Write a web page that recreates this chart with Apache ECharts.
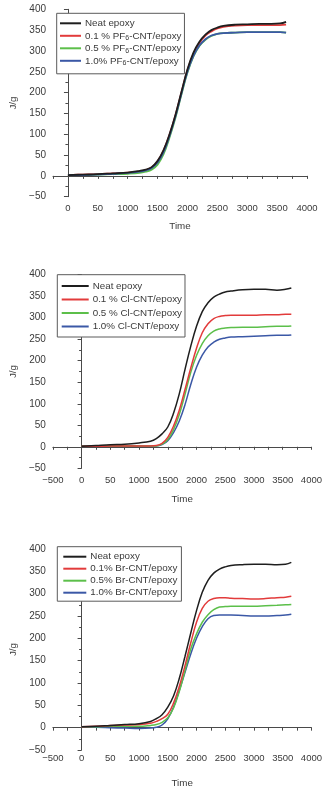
<!DOCTYPE html>
<html><head><meta charset="utf-8">
<script src="https://cdn.jsdelivr.net/npm/echarts@6/dist/echarts.min.js"></script>
<style>html,body{margin:0;padding:0;background:#fff}#c{width:325px;height:789px}</style>
</head><body><div id="c"></div>
<script>
// ---- data ----
const time = [0, 250, 500, 750, 1000, 1200, 1300, 1400, 1500, 1600, 1700, 1800, 1900, 2000, 2100, 2200, 2300, 2400, 2500, 2600, 2800, 3000, 3200, 3400, 3550, 3650];

// Chart 1: PF6-CNT
const names1 = ['Neat epoxy', '0.1 % PF6-CNT/epoxy', '0.5 % PF6-CNT/epoxy', '1.0% PF6-CNT/epoxy'];
const neat1  = [2, 3, 4, 6, 8, 12, 15, 21, 36, 62, 100, 147, 202, 256, 296, 322, 339, 350, 356, 360, 363, 364, 365, 365, 366, 370];
const pf01   = [2, 3, 4, 6, 8, 11, 14, 20, 35, 61, 99, 146, 201, 254, 293, 319, 337, 347, 354, 358, 361, 362, 362, 362, 362, 363];
const pf05   = [2, 2, 3, 4, 5, 7, 10, 15, 27, 52, 92, 140, 196, 248, 287, 312, 327, 336, 341, 343, 344, 345, 345, 345, 345, 344];
const pf10   = [2, 2, 3, 5, 7, 10, 13, 19, 32, 57, 96, 143, 198, 250, 288, 313, 328, 337, 341, 343, 344, 345, 345, 345, 345, 344];

// Chart 2: Cl-CNT
const names2 = ['Neat epoxy', '0.1 % Cl-CNT/epoxy', '0.5 % Cl-CNT/epoxy', '1.0% Cl-CNT/epoxy'];
const neat2  = [1, 3, 5, 6, 9, 13, 19, 30, 46, 78, 123, 180, 234, 280, 314, 335, 348, 355, 360, 362, 365, 366, 366, 364, 366, 369];
const cl01   = [1, 1, 2, 2, 2, 2, 3, 8, 22, 48, 85, 133, 183, 229, 265, 286, 298, 303, 305, 306, 306, 306, 307, 307, 308, 308];
const cl05   = [1, 1, 2, 2, 2, 2, 2, 6, 17, 40, 75, 122, 173, 212, 240, 258, 269, 274, 276, 277, 278, 278, 279, 280, 280, 281];
const cl10   = [1, 1, 1, 1, 1, 2, 2, 5, 14, 33, 60, 98, 145, 185, 213, 232, 243, 250, 253, 255, 256, 257, 258, 259, 259, 260];

// Chart 3: Br-CNT
const names3 = ['Neat epoxy', '0.1% Br-CNT/epoxy', '0.5% Br-CNT/epoxy', '1.0% Br-CNT/epoxy'];
const neat3  = [2, 3, 5, 7, 9, 14, 20, 29, 46, 71, 110, 160, 212, 262, 303, 330, 346, 355, 360, 363, 365, 366, 366, 365, 366, 370];
const br01   = [2, 3, 5, 6, 7, 10, 14, 20, 30, 55, 92, 139, 190, 236, 267, 283, 289, 291, 291, 290, 289, 288, 289, 291, 292, 294];
const br05   = [2, 2, 3, 3, 3, 5, 7, 12, 22, 44, 81, 128, 176, 210, 236, 253, 264, 270, 271, 272, 272, 272, 273, 274, 275, 276];
const br10   = [1, 1, 0, -1, -2, -1, 1, 6, 20, 46, 83, 124, 165, 200, 226, 244, 251, 252, 252, 252, 251, 250, 250, 251, 252, 254];

// tick labels
const xTickValues = [-500, 0, 500, 1000, 1500, 2000, 2500, 3000, 3500, 4000];
const xTickLabels = ['\u2212500', '0', '50', '1000', '1500', '2000', '2500', '3000', '3500', '4000'];
const yTickValues = [-50, 0, 50, 100, 150, 200, 250, 300, 350, 400];
const yTickLabels = ['\u221250', '0', '50', '100', '150', '200', '250', '300', '350', '400'];

const colors = ['#1e1e1e', '#e23b3b', '#5cbf4a', '#3b58a6'];
const FONT = 'Liberation Sans, Arial, sans-serif';
const TXT = '#3a3a3a';
const AX = '#4a4a4a';

const grids = [
  {left: 53, top: 9.3, width: 254, height: 187.4},
  {left: 52.7, top: 274.7, width: 267.3, height: 193.6},
  {left: 52.7, top: 549, width: 270, height: 209.3}
];
const xMins = [-250, -500, -500];
const timeGaps = [25, 26, 28];
const xLabelMargins = [7, 7, 3];

function range(a, b, s) { const r = []; for (let v = a; v <= b + 1e-9; v += s) r.push(v); return r; }

const xAxes = grids.map((g, i) => ({
  type: 'value', gridIndex: i, min: xMins[i], max: 4000,
  name: 'Time', nameLocation: 'middle', nameGap: timeGaps[i],
  nameTextStyle: {color: TXT, fontSize: 9.8, fontFamily: FONT},
  axisLine: {show: true, lineStyle: {color: AX, width: 1}},
  axisTick: {show: true, inside: false, length: 3, lineStyle: {color: AX}, customValues: range(xMins[i], 4000, 250)},
  axisLabel: {
    color: TXT, fontSize: 9.5, fontFamily: FONT, margin: xLabelMargins[i],
    customValues: xTickValues.filter(v => v >= xMins[i]),
    formatter: v => { const k = xTickValues.indexOf(v); return k >= 0 ? xTickLabels[k] : ''; }
  },
  splitLine: {show: false}
}));

const yAxes = grids.map((g, i) => ({
  type: 'value', gridIndex: i, min: -50, max: 400, interval: 50,
  name: 'J/g', nameLocation: 'middle', nameGap: 34, nameRotate: 90,
  nameTextStyle: {color: TXT, fontSize: 9.8, fontFamily: FONT},
  axisLine: {show: true, lineStyle: {color: AX, width: 1}},
  axisTick: {show: true, inside: false, length: 4, lineStyle: {color: AX}},
  minorTick: {show: true, splitNumber: 2, length: 2.5, lineStyle: {color: AX}},
  axisLabel: {
    color: TXT, fontSize: 10, fontFamily: FONT, margin: 7,
    formatter: v => { const k = yTickValues.indexOf(v); return k >= 0 ? yTickLabels[k] : ''; }
  },
  splitLine: {show: false}
}));

const sets = [
  {names: names1, data: [neat1, pf01, pf05, pf10], width: 1.8},
  {names: names2, data: [neat2, cl01, cl05, cl10], width: 1.5},
  {names: names3, data: [neat3, br01, br05, br10], width: 1.5}
];

const series = [];
sets.forEach((s, gi) => {
  s.data.forEach((arr, k) => {
    series.push({
      type: 'line', name: s.names[k], xAxisIndex: gi, yAxisIndex: gi,
      data: time.map((t, j) => [t, arr[j]]),
      smooth: 0.4, symbol: 'none', showSymbol: false,
      lineStyle: {color: colors[k], width: s.width},
      itemStyle: {color: colors[k]},
      emphasis: {disabled: true}, silent: true, animation: false,
      z: 2 + (gi === 0 ? (k === 0 ? 5 : k) : (3 - k))
    });
  });
});

const legendPos = [
  {left: 56.7, top: 13.3, itemWidth: 21, itemGap: 0.5, padding: [4, 3, 7, 3.3]},
  {left: 57.3, top: 274.7, itemWidth: 27, itemGap: 1.5, padding: [5.3, 3, 4.5, 4.4]},
  {left: 57.3, top: 546.7, itemWidth: 23, itemGap: 0, padding: [4, 4, 2.5, 6]}
];
const legends = sets.map((s, i) => ({
  orient: 'vertical', left: legendPos[i].left, top: legendPos[i].top,
  data: s.names.map((n, k) => ({name: n, itemStyle: {color: colors[k]}})),
  icon: 'rect', itemWidth: legendPos[i].itemWidth, itemHeight: 2, itemGap: legendPos[i].itemGap,
  selectedMode: false, borderColor: '#5a5a5a', borderWidth: 1, borderRadius: 0,
  padding: legendPos[i].padding, backgroundColor: '#fff',
  textStyle: {
    color: TXT, fontSize: 9.8, fontFamily: FONT, lineHeight: 12, padding: [0, 0, 0, -1],
    rich: {
      n: {fontSize: 9.8, fontFamily: FONT, color: TXT, lineHeight: 12, verticalAlign: 'middle'},
      s: {fontSize: 7, fontFamily: FONT, color: TXT, lineHeight: 12, verticalAlign: 'bottom'}
    }
  },
  formatter: name => {
    if (name.indexOf('PF6') >= 0) {
      const p = name.split('PF6');
      return '{n|' + p[0] + 'PF}{s|6}{n|' + p[1] + '}';
    }
    return name;
  }
}));

const chart = echarts.init(document.getElementById('c'), null, {renderer: 'canvas'});
chart.setOption({
  backgroundColor: '#fff', animation: false,
  grid: grids.map(g => Object.assign({containLabel: false}, g)),
  xAxis: xAxes, yAxis: yAxes, legend: legends, series: series
});
</script></body></html>
